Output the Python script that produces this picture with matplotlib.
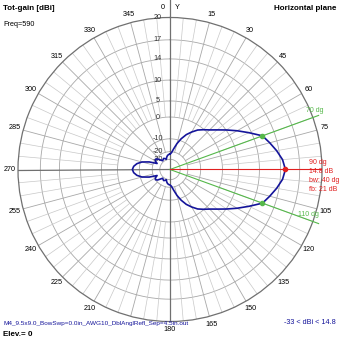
import numpy as np
import matplotlib
matplotlib.use("Agg")
import matplotlib.pyplot as plt

plt.rcParams['font.family'] = ['Liberation Sans', 'DejaVu Sans']

# horizontal-plane pattern, azimuth in degrees (clockwise from Y), total gain in dBi
azimuth = list(range(0, 360, 5))
gain = [-22.5, -21.0, -17.0, -12.5, -8.8, -5.8, -3.6, -1.6, -0.2, 1.2,
        3.0, 5.1, 7.3, 9.5, 11.8, 12.7, 13.6, 14.4, 14.8,
        14.4, 13.6, 12.7, 11.8, 9.5, 7.3, 5.1, 3.0, 1.2, -0.2,
        -1.6, -3.6, -5.8, -8.8, -12.5, -17.0, -21.0, -22.5,
        -23.0, -24.0, -26.0, -29.0, -27.0, -26.0, -27.0, -28.0, -25.0,
        -21.5, -20.0, -21.0, -24.0, -16.0, -11.0, -8.3, -6.8,
        -6.2,
        -6.8, -8.3, -11.0, -16.0, -24.0, -21.0, -20.0, -21.5, -25.0,
        -28.0, -27.0, -26.0, -27.0, -29.0, -26.0, -24.0, -23.0]

# grid rings and their labels
ring_levels = [-30, -20, -10, 0, 5, 10, 14, 17, 20]
# rim labels; 90 sits under the red readout, 195 under the file name
angle_ticks = [a for a in range(0, 360, 15) if a not in (90, 195)]

# main lobe summary
max_dir = 90
max_gain = 14.8
bw_edges = [70, 110]
half_power = 11.8
fb_ratio = 21
gain_min = -33

NAVY = "#14149a"
GREEN = "#55b84a"
RED = "#e02020"


def fwd(db):
    return 0.9 ** ((20.0 - np.asarray(db, dtype=float)) / 2.0)


def inv(r):
    r = np.clip(np.asarray(r, dtype=float), 1e-9, None)
    return 20.0 - 2.0 * np.log(r) / np.log(0.9)


fig = plt.figure(figsize=(3.39, 3.39), dpi=100)
ax = fig.add_axes([0.0531, 0.0516, 0.8968, 0.8968], projection='polar')
ax.set_theta_zero_location('N')
ax.set_theta_direction(-1)
ax.set_rscale('function', functions=(fwd, inv))
ax.set_rlim(-80, 20)
ax.grid(False)
ax.set_xticks([])
ax.set_yticks([])
ax.spines['polar'].set_color('#707070')
ax.spines['polar'].set_linewidth(0.9)
ax.patch.set_alpha(0)

ring = np.linspace(0, 2 * np.pi, 361)
for lv in ring_levels[:-1]:
    ax.plot(ring, [lv] * len(ring), color='#a8a8a8', lw=0.6, zorder=1)

# spokes: every 5 deg light, every 15 deg a bit darker and longer
for a in range(0, 360, 5):
    t = np.radians(a)
    if a % 90 == 0:
        continue
    if a % 15 == 0:
        ax.plot([t, t], [-20, 20], color='#a8a8a8', lw=0.6, zorder=1)
    else:
        ax.plot([t, t], [0, 20], color='#c8c8c8', lw=0.5, zorder=1)

# main axes through the centre
ax.plot([0, 0], [-80, 22.5], color='#707070', lw=0.9, zorder=2, clip_on=False)
ax.plot([np.pi, np.pi], [-80, 20], color='#707070', lw=0.9, zorder=2)
ax.plot([1.5 * np.pi, 1.5 * np.pi], [-80, 20], color='#707070', lw=0.9, zorder=2)

# radial labels along the 0 deg line
for lv in ring_levels:
    ax.annotate(str(lv), xy=(0, lv), xytext=(-9, 0), textcoords='offset points',
                ha='center', va='center', fontsize=5.2, color='#303030')

# azimuth labels around the rim
r_lab = float(inv(1.055))
for a in angle_ticks:
    t = np.radians(a)
    if a == 0:
        ax.annotate('0', xy=(t, r_lab), xytext=(-5, 1), textcoords='offset points',
                    ha='center', va='center', fontsize=5.2, annotation_clip=False)
        ax.annotate('Y', xy=(t, r_lab), xytext=(5, 1), textcoords='offset points',
                    ha='center', va='center', fontsize=5.2, annotation_clip=False)
        continue
    ax.text(t, r_lab, str(a), ha='center', va='center', fontsize=5.2, clip_on=False)

# beamwidth and max direction markers
r_green = float(inv(1.04))
for a in bw_edges:
    t = np.radians(a)
    ax.plot([t, t], [-80, r_green], color=GREEN, lw=0.8, zorder=3, clip_on=False)
ax.plot([np.radians(max_dir)] * 2, [-80, 20], color=RED, lw=0.8, zorder=3)

theta = np.radians(azimuth + [azimuth[0]])
ax.plot(theta, gain + [gain[0]], color=NAVY, lw=1.2, zorder=5)

ax.plot(np.radians(bw_edges), [half_power] * 2, 'o', color=GREEN, ms=3, zorder=6)
ax.plot([np.radians(max_dir)], [max_gain], 'o', color=RED, ms=3, zorder=6)

fig.text(306 / 339, 1 - 110 / 339, f"{bw_edges[0]} dg", color=GREEN, fontsize=5,
         ha='left', va='center')
fig.text(298 / 339, 1 - 215 / 339, f"{bw_edges[1]} dg", color=GREEN, fontsize=5,
         ha='left', va='center')

red_lines = [f"{max_dir} dg", f"{max_gain} dB", f"bw: {bw_edges[1] - bw_edges[0]} dg",
             f"fb: {fb_ratio} dB"]
for i, s in enumerate(red_lines):
    fig.text(309 / 339, 1 - (162 + 9.2 * i) / 339, s, color=RED, fontsize=5,
             ha='left', va='center')

fig.text(3 / 339, 1 - 8 / 339, "Tot-gain [dBi]", fontsize=5.8, fontweight='bold',
         ha='left', va='center')
fig.text(3 / 339, 1 - 25 / 339, "Freq=590", fontsize=5.2, ha='left', va='center')
fig.text(336 / 339, 1 - 8 / 339, "Horizontal plane", fontsize=5.8, fontweight='bold',
         ha='right', va='center')
fig.text(3 / 339, 1 - 323 / 339, "M4_9.5x9.0_BowSwp=0.0in_AWG10_DblAnglRefl_Sep=4.5in.out",
         fontsize=4.6, color=NAVY, ha='left', va='center')
fig.text(3 / 339, 1 - 334 / 339, "Elev.= 0", fontsize=5.8, fontweight='bold',
         ha='left', va='center')
fig.text(336 / 339, 1 - 323 / 339, f"{gain_min} < dBi < {max_gain}", fontsize=5.2,
         color=NAVY, ha='right', va='center')

fig.savefig("out.png", dpi=100)
